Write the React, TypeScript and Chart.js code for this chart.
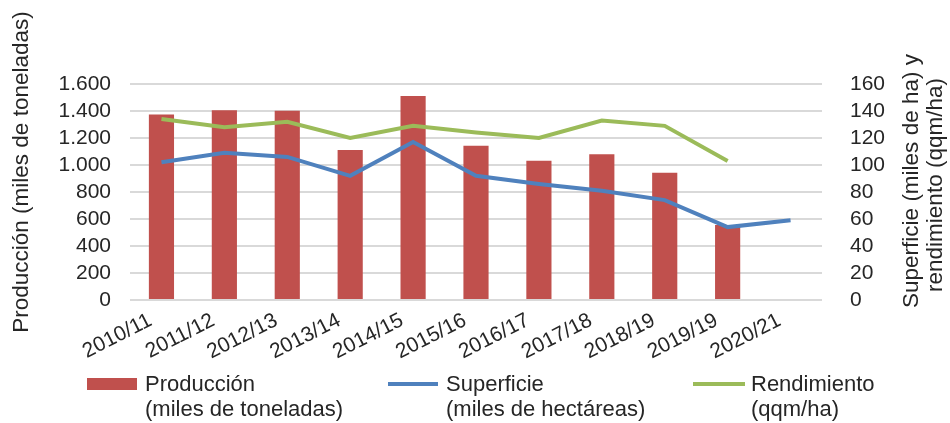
import React, { useEffect, useRef } from "react";
import { Chart, registerables } from "chart.js";

Chart.register(...registerables);

const campaigns = [
  "2010/11", "2011/12", "2012/13", "2013/14", "2014/15", "2015/16",
  "2016/17", "2017/18", "2018/19", "2019/19", "2020/21",
];
// thousand tonnes
const produccion = [1375, 1405, 1402, 1111, 1511, 1143, 1032, 1079, 943, 555, null];
// thousand hectares
const superficie = [102, 109, 106, 92, 117, 92, 86, 81, 74, 54, 59];
// qqm/ha
const rendimiento = [134, 128, 132, 120, 129, 124, 120, 133, 129, 103, null];

const leftTicks = [0, 200, 400, 600, 800, 1000, 1200, 1400, 1600];
const rightTicks = [0, 20, 40, 60, 80, 100, 120, 140, 160];

const RED = "#C0504D";
const BLUE = "#4F81BD";
const GREEN = "#9BBB59";
const FONT = "'Liberation Sans', Arial, sans-serif";
const TEXT = "#262626";

const fmtThousands = (v: number) =>
  v >= 1000 ? `${Math.floor(v / 1000)}.${String(v % 1000).padStart(3, "0")}` : String(v);

// Axis titles drawn at fixed positions beside the plot
const axisTitles = {
  id: "axisTitles",
  afterDraw(chart: Chart) {
    const ctx = chart.ctx;
    ctx.save();
    ctx.fillStyle = TEXT;
    ctx.textAlign = "center";
    ctx.textBaseline = "middle";
    const draw = (text: string, x: number, y: number, size: number) => {
      ctx.save();
      ctx.font = `${size}px ${FONT}`;
      ctx.translate(x, y);
      ctx.rotate(-Math.PI / 2);
      ctx.fillText(text, 0, 0);
      ctx.restore();
    };
    draw("Producción (miles de toneladas)", 22, 172, 22.5);
    draw("Superficie (miles de ha) y", 912, 181, 22.5);
    draw("rendimiento (qqm/ha)", 936, 185, 22.5);
    ctx.restore();
  },
};

export default function App() {
  const ref = useRef<HTMLCanvasElement>(null);

  useEffect(() => {
    document.body.style.margin = "0";
    const chart = new Chart(ref.current!, {
      type: "bar",
      data: {
        labels: campaigns,
        datasets: [
          {
            type: "line",
            label: "Rendimiento",
            data: rendimiento,
            yAxisID: "y1",
            borderColor: GREEN,
            borderWidth: 4,
            pointRadius: 0,
            tension: 0,
            order: 1,
          },
          {
            type: "line",
            label: "Superficie",
            data: superficie,
            yAxisID: "y1",
            borderColor: BLUE,
            borderWidth: 4,
            pointRadius: 0,
            tension: 0,
            order: 1,
          },
          {
            type: "bar",
            label: "Producción",
            data: produccion,
            yAxisID: "y",
            backgroundColor: RED,
            barPercentage: 0.5,
            categoryPercentage: 0.8,
            order: 2,
          },
        ],
      },
      options: {
        responsive: false,
        animation: false,
        events: [],
        layout: { padding: { top: 84, left: 0, right: 0, bottom: 0 } },
        plugins: { legend: { display: false }, tooltip: { enabled: false } },
        scales: {
          x: {
            grid: { display: false },
            border: { display: false },
            ticks: {
              autoSkip: false,
              minRotation: 27,
              maxRotation: 27,
              color: TEXT,
              font: { family: FONT, size: 21 },
              padding: 0,
              labelOffset: -11,
            },
            afterFit: (s: any) => { s.height = 123; },
          },
          y: {
            position: "left",
            min: 0,
            max: 1600,
            afterBuildTicks: (s: any) => { s.ticks = leftTicks.map((v) => ({ value: v })); },
            grid: { color: "#D9D9D9", lineWidth: 2, drawTicks: false },
            border: { display: false },
            ticks: {
              autoSkip: false,
              color: TEXT,
              font: { family: FONT, size: 21 },
              padding: 19,
              callback: (v: any) => fmtThousands(Number(v)),
            },
            afterFit: (s: any) => { s.width = 130; },
          },
          y1: {
            position: "right",
            min: 0,
            max: 160,
            afterBuildTicks: (s: any) => { s.ticks = rightTicks.map((v) => ({ value: v })); },
            grid: { display: false },
            border: { display: false },
            ticks: {
              autoSkip: false,
              color: TEXT,
              font: { family: FONT, size: 21 },
              padding: 20,
            },
            afterFit: (s: any) => { s.width = 128; },
          },
        },
      },
      plugins: [axisTitles],
    });
    return () => chart.destroy();
  }, []);

  const legendText: React.CSSProperties = {
    position: "absolute",
    fontFamily: FONT,
    fontSize: 22,
    lineHeight: "25px",
    color: TEXT,
    whiteSpace: "nowrap",
  };

  return (
    <div style={{ position: "relative", width: 950, height: 423, background: "#fff", overflow: "hidden" }}>
      <canvas ref={ref} width={950} height={423} style={{ position: "absolute", left: 0, top: 0 }} />
      <div style={{ position: "absolute", left: 87, top: 378, width: 50, height: 12, background: RED }} />
      <div style={{ ...legendText, left: 145, top: 371 }}>Producción<br />(miles de toneladas)</div>
      <div style={{ position: "absolute", left: 388, top: 382, width: 50, height: 4, background: BLUE }} />
      <div style={{ ...legendText, left: 446, top: 371 }}>Superficie<br />(miles de hectáreas)</div>
      <div style={{ position: "absolute", left: 693, top: 382, width: 52, height: 4, background: GREEN }} />
      <div style={{ ...legendText, left: 751, top: 371 }}>Rendimiento<br />(qqm/ha)</div>
    </div>
  );
}
